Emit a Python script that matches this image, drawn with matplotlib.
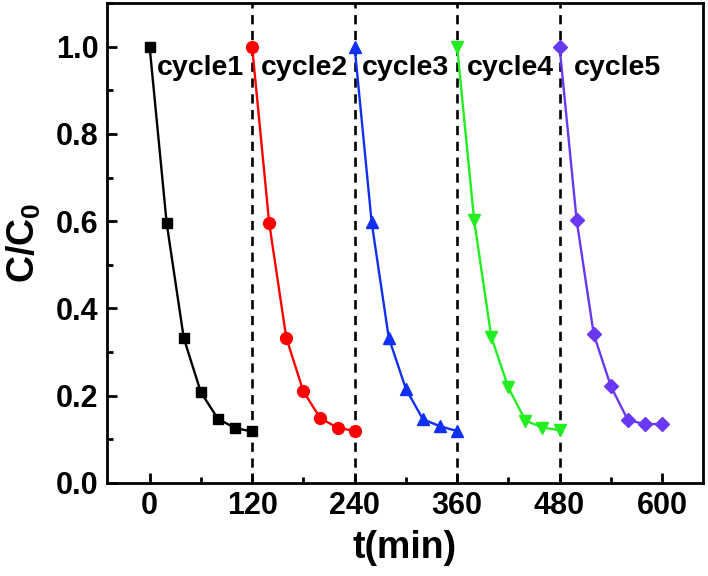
import numpy as np
import matplotlib
matplotlib.use('Agg')
import matplotlib.pyplot as plt
from matplotlib.ticker import MultipleLocator

plt.rcParams['font.family'] = ['Liberation Sans', 'DejaVu Sans']
plt.rcParams['font.weight'] = 'bold'
plt.rcParams['mathtext.fontset'] = 'custom'
plt.rcParams['mathtext.rm'] = 'Liberation Sans:bold'
plt.rcParams['mathtext.bf'] = 'Liberation Sans:bold'

# time points within each 120 min cycle
t_cycle = [0, 20, 40, 60, 80, 100, 120]
cycle_starts = [0, 120, 240, 360, 480]

c1 = [1.0, 0.595, 0.332, 0.208, 0.147, 0.126, 0.118]
c2 = [1.0, 0.596, 0.333, 0.210, 0.148, 0.127, 0.119]
c3 = [1.0, 0.597, 0.333, 0.216, 0.146, 0.130, 0.119]
c4 = [1.0, 0.602, 0.335, 0.219, 0.143, 0.127, 0.121]
c5 = [1.0, 0.602, 0.341, 0.222, 0.144, 0.135, 0.135]

series = [c1, c2, c3, c4, c5]
colors = ['black', '#FF0000', '#1030F5', '#22EE22', '#6A38F2']
markers = ['s', 'o', '^', 'v', 'D']
msizes = [7.5, 8.5, 8.5, 8.5, 7.5]
labels = ['cycle1', 'cycle2', 'cycle3', 'cycle4', 'cycle5']
label_x = [8, 130, 249, 371, 497]
separators = [120, 240, 360, 480]

fig = plt.figure(figsize=(7.08, 5.76), dpi=100)
ax = fig.add_axes([0.151, 0.1615, 0.842, 0.8333])

for start, vals, col, mk, ms in zip(cycle_starts, series, colors, markers, msizes):
    t = np.array(t_cycle) + start
    ax.plot(t, vals, color=col, marker=mk, markersize=ms, linewidth=1.7, zorder=3)

for s in separators:
    ax.axvline(s, color='black', linestyle=(0, (3.5, 2.5)), linewidth=1.9, zorder=2)

for x, lab in zip(label_x, labels):
    ax.text(x, 0.936, lab, fontsize=20.5, fontweight='bold', va='baseline', ha='left', zorder=4)

ax.set_xlim(-50, 648)
ax.set_ylim(0, 1.1)
ax.xaxis.set_major_locator(MultipleLocator(120))
ax.xaxis.set_minor_locator(MultipleLocator(60))
ax.yaxis.set_major_locator(MultipleLocator(0.2))
ax.yaxis.set_minor_locator(MultipleLocator(0.1))
ax.set_yticks([0, 0.2, 0.4, 0.6, 0.8, 1.0])
ax.set_yticklabels(['0.0', '0.2', '0.4', '0.6', '0.8', '1.0'])

ax.tick_params(which='both', direction='in', width=2, top=False, right=False)
ax.tick_params(which='major', length=7)
ax.tick_params(which='minor', length=4)
ax.tick_params(axis='both', labelsize=22, pad=6)
for lab in ax.get_xticklabels() + ax.get_yticklabels():
    lab.set_fontweight('bold')
for sp in ax.spines.values():
    sp.set_linewidth(2)

ax.set_xlabel('t(min)', fontsize=27, fontweight='bold', labelpad=6)
ax.set_ylabel(r'C/C$_\mathbf{0}$', fontsize=27, fontweight='bold', labelpad=9)

fig.savefig('out.png', dpi=100)
